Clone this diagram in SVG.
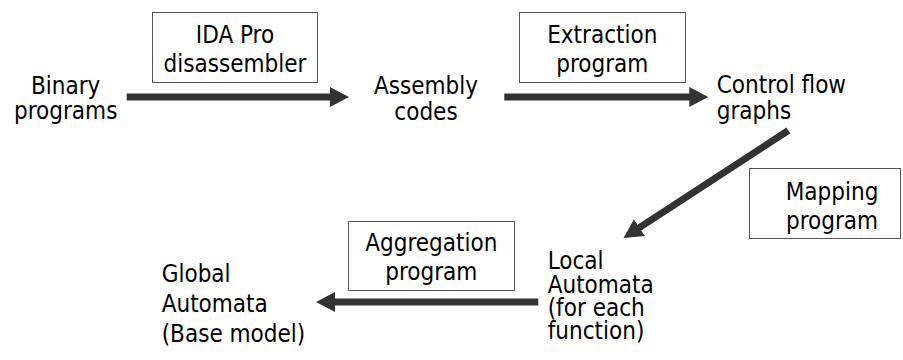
<svg xmlns="http://www.w3.org/2000/svg" width="903" height="360" viewBox="0 0 903 360">
<style>
text{font-family:"DejaVu Sans Condensed","DejaVu Sans",sans-serif;font-stretch:condensed;font-size:24px;fill:#000}
.c{text-anchor:middle}
.box{fill:#fff;stroke:#555;stroke-width:1}
.arr{stroke:#333;stroke-width:7;fill:none;marker-end:url(#ah)}
</style>
<defs>
<marker id="ah" markerUnits="userSpaceOnUse" markerWidth="20" markerHeight="20" refX="1" refY="10" orient="auto">
<path d="M0,0 L19,10 L0,20 z" fill="#333"/>
</marker>
</defs>
<rect width="903" height="360" fill="#fff"/>
<g id="connectors">
<line class="arr" x1="126.7" y1="97" x2="331" y2="97"/>
<line class="arr" x1="504.3" y1="97" x2="690.3" y2="97"/>
<line class="arr" x1="788.3" y1="130.5" x2="638.6" y2="228.1"/>
<line class="arr" x1="538.3" y1="302" x2="334" y2="302"/>
</g>
<g id="binary"><text class="c" x="65.7" y="93.5">Binary</text><text class="c" x="65.7" y="119">programs</text></g>
<g id="assembly"><text class="c" x="426" y="94">Assembly</text><text class="c" x="426" y="119.5">codes</text></g>
<g id="cfg"><text x="716.7" y="93">Control flow</text><text x="716.7" y="119">graphs</text></g>
<g id="local"><text x="547.7" y="269">Local</text><text x="547.7" y="292.5">Automata</text><text x="547.7" y="316">(for each</text><text x="547.7" y="339">function)</text></g>
<g id="global"><text x="161.7" y="282">Global</text><text x="161.7" y="311.7">Automata</text><text x="161.7" y="341.7">(Base model)</text></g>
<g id="ida"><rect class="box" x="152.5" y="12.5" width="165" height="70"/><text class="c" x="235" y="42.5">IDA Pro</text><text class="c" x="235" y="72">disassembler</text></g>
<g id="extraction"><rect class="box" x="519.5" y="12.5" width="166" height="70"/><text class="c" x="602.3" y="42.5">Extraction</text><text class="c" x="602.3" y="72">program</text></g>
<g id="mapping"><rect class="box" x="749.5" y="168.5" width="151" height="70"/><text class="c" x="832" y="200">Mapping</text><text class="c" x="832" y="229">program</text></g>
<g id="aggregation"><rect class="box" x="348.5" y="221.5" width="166" height="69"/><text class="c" x="431.3" y="251">Aggregation</text><text class="c" x="431.3" y="280">program</text></g>
</svg>
